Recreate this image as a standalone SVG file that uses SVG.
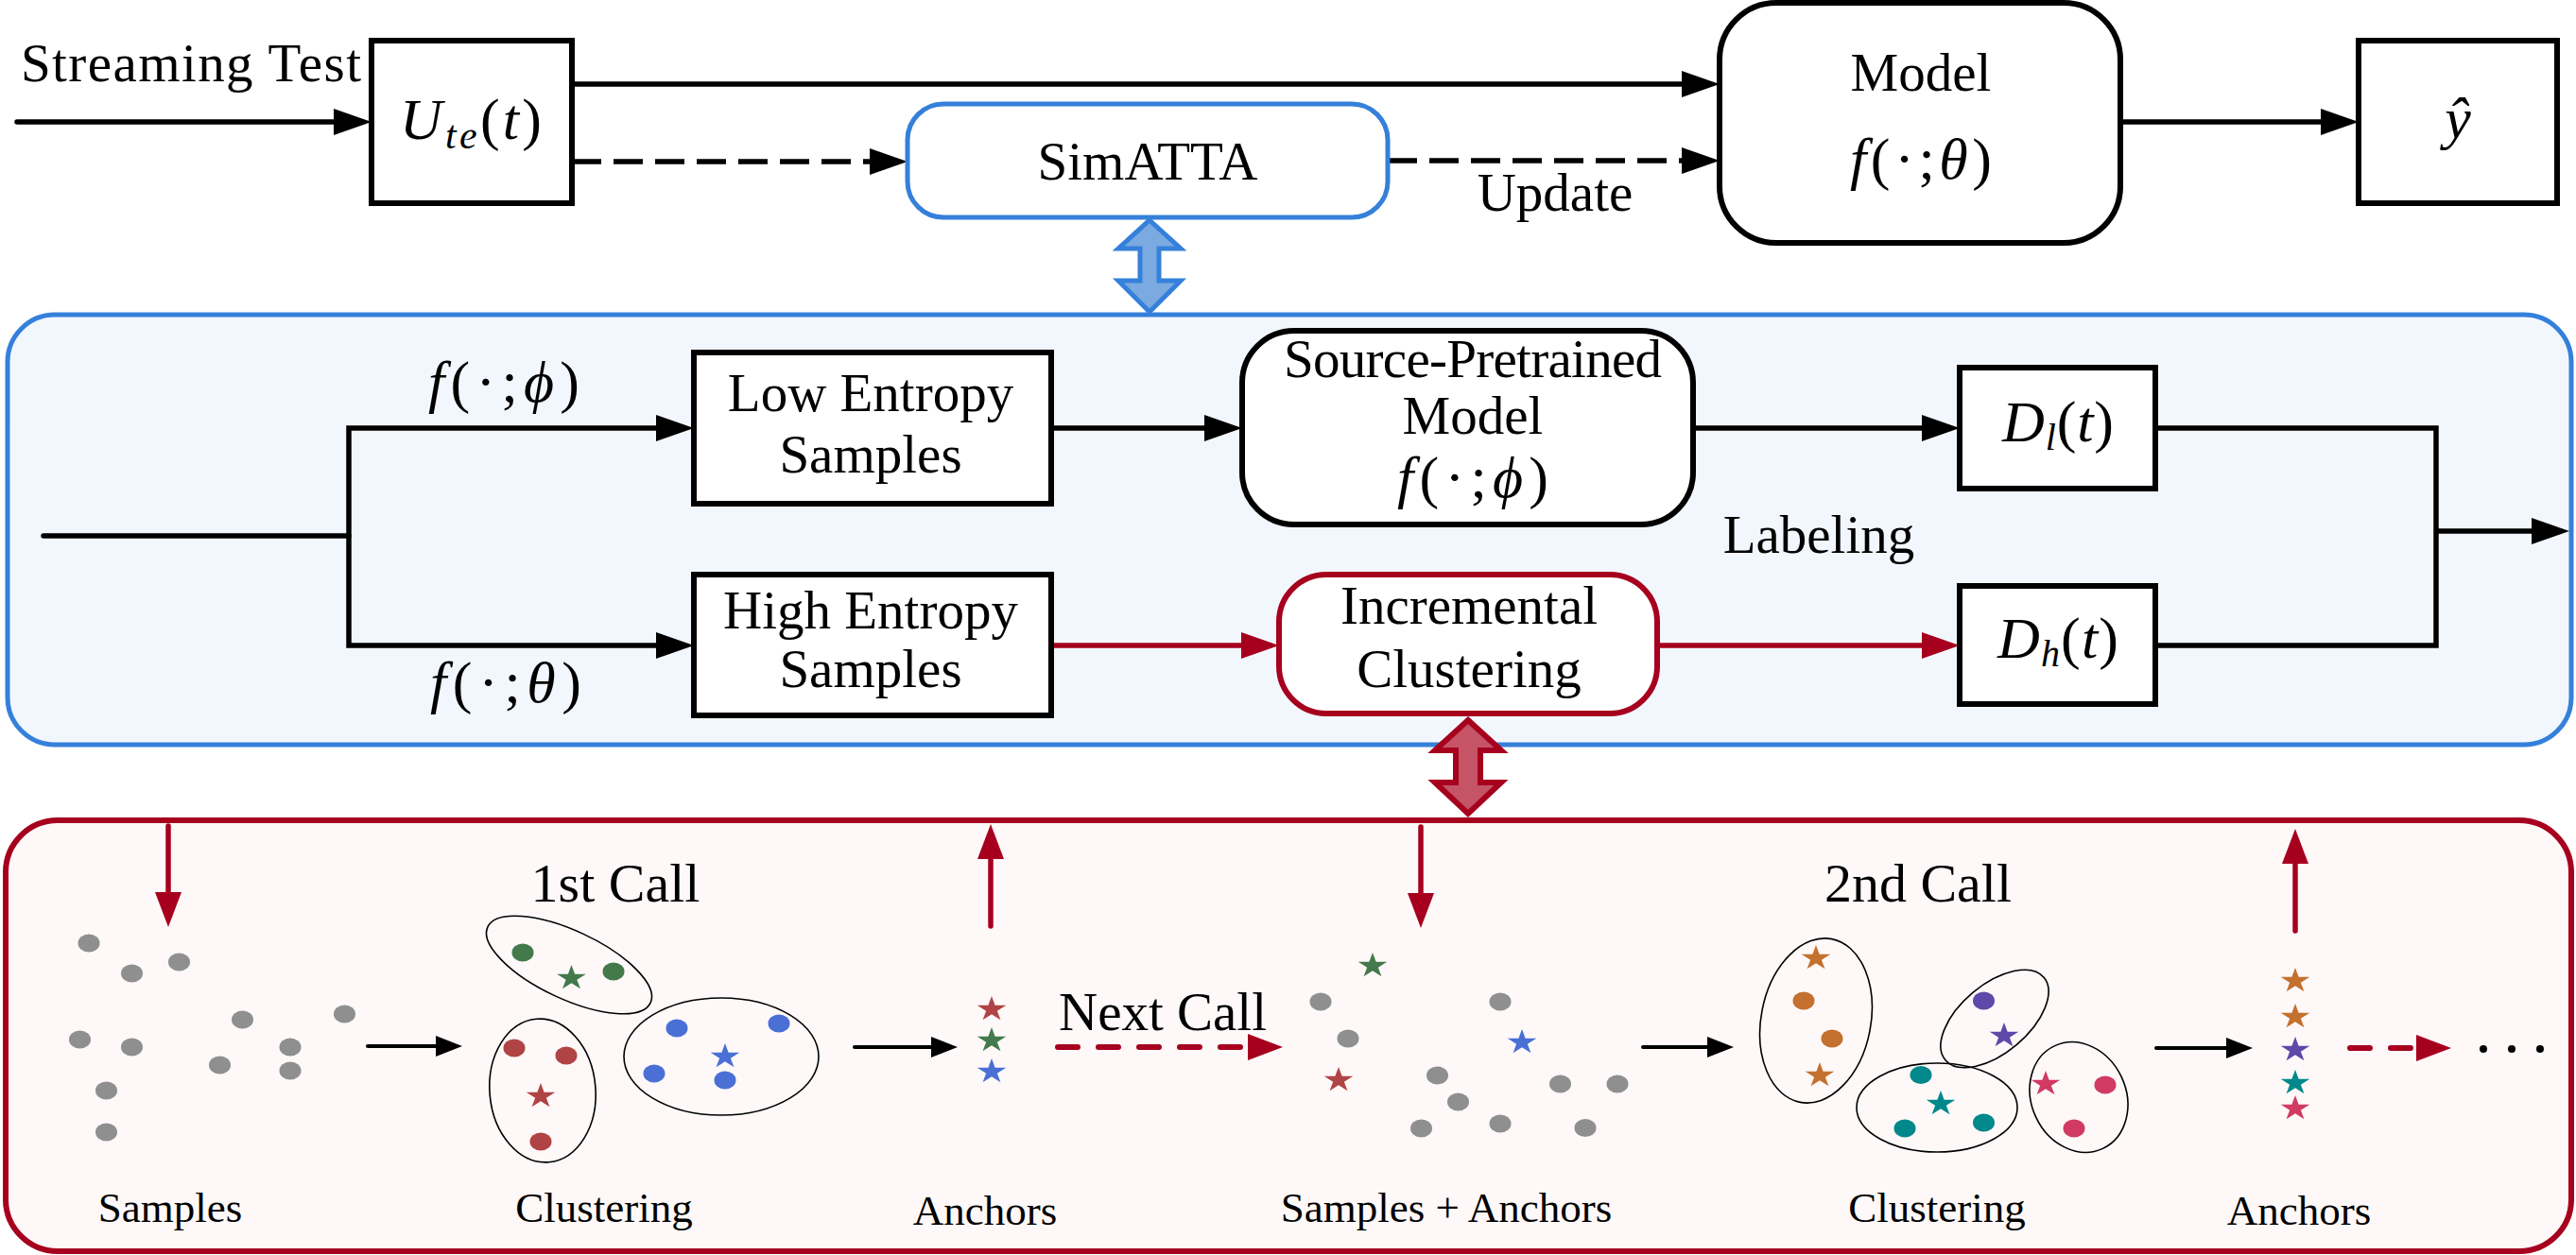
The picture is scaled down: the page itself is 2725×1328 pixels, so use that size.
<svg xmlns="http://www.w3.org/2000/svg" width="2725" height="1328" viewBox="0 0 2725 1328">
<defs>
<style>
text{font-family:"Liberation Serif","Times New Roman",serif;fill:#000}
.lbl{font-size:57px;text-anchor:middle}
.call{font-size:58px;text-anchor:middle}
.sm{font-size:45px;text-anchor:middle}
.math{font-size:62px;text-anchor:middle}
.it{font-style:italic}
.box{fill:#fff;stroke:#000;stroke-width:6}
.ln{fill:none;stroke:#000;stroke-width:5.5}
.lnr{fill:none;stroke:#A6001E;stroke-width:5.5}
.dash{fill:none;stroke:#000;stroke-width:5.5;stroke-dasharray:31 13}
.sml{fill:none;stroke:#000;stroke-width:4;stroke-linecap:round}
.rv{fill:none;stroke:#A6001E;stroke-width:5.5;stroke-linecap:round}
.rdash{fill:none;stroke:#A6001E;stroke-width:6;stroke-linecap:round;stroke-dasharray:21 22}
.clu{fill:none;stroke:#000;stroke-width:1.6}
.g{fill:#8F8F8F}
.cg{fill:#447A4B}
.cr{fill:#B04444}
.cb{fill:#4A70D6}
.co{fill:#C4702F}
.cp{fill:#5E48A8}
.ct{fill:#00888A}
.ck{fill:#D03A63}
</style>
<marker id="ah" markerUnits="userSpaceOnUse" markerWidth="40" markerHeight="28" refX="20" refY="14" orient="auto" overflow="visible"><path d="M0,0 L40,14 L0,28 Z" fill="#000"/></marker>
<marker id="ahr" markerUnits="userSpaceOnUse" markerWidth="40" markerHeight="28" refX="20" refY="14" orient="auto" overflow="visible"><path d="M0,0 L40,14 L0,28 Z" fill="#A6001E"/></marker>
<marker id="ahs" markerUnits="userSpaceOnUse" markerWidth="28" markerHeight="22" refX="14" refY="11" orient="auto" overflow="visible"><path d="M0,0 L28,11 L0,22 Z" fill="#000"/></marker>
<marker id="ahrv" markerUnits="userSpaceOnUse" markerWidth="37" markerHeight="28" refX="18" refY="14" orient="auto" overflow="visible"><path d="M0,0 L37,14 L0,28 Z" fill="#A6001E"/></marker>
<path id="star" d="M0,-14 L3.15,-4.33 L13.32,-4.33 L5.09,1.65 L8.23,11.33 L0,5.35 L-8.23,11.33 L-5.09,1.65 L-13.32,-4.33 L-3.15,-4.33 Z"/>
</defs>
<rect width="2725" height="1328" fill="#fff"/>

<!-- panels -->
<g id="panel-simatta">
<rect x="8" y="333" width="2712" height="455" rx="50" fill="#F2F7FE" stroke="#3580DA" stroke-width="5"/>
</g>
<g id="panel-clustering">
<rect x="6" y="868" width="2714" height="456" rx="55" fill="#FEF8F8" stroke="#A6001E" stroke-width="6"/>
</g>

<!-- connectors -->
<g id="connectors">
<line class="ln" x1="18" y1="129" x2="373" y2="129" stroke-linecap="round" marker-end="url(#ah)"/>
<line class="ln" x1="605" y1="89" x2="1799" y2="89" marker-end="url(#ah)"/>
<line class="dash" x1="605" y1="171" x2="940" y2="171" marker-end="url(#ah)"/>
<line class="dash" x1="1468" y1="170" x2="1799" y2="170" marker-end="url(#ah)"/>
<line class="ln" x1="2243" y1="129" x2="2475" y2="129" marker-end="url(#ah)"/>
<path class="ln" d="M46,567 H369" stroke-linecap="round"/>
<path class="ln" d="M369,567 V453 H714" marker-end="url(#ah)"/>
<path class="ln" d="M369,567 V683 H714" marker-end="url(#ah)"/>
<line class="ln" x1="1112" y1="453" x2="1294" y2="453" marker-end="url(#ah)"/>
<line class="ln" x1="1791" y1="453" x2="2053" y2="453" marker-end="url(#ah)"/>
<line class="lnr" x1="1112" y1="683" x2="1333" y2="683" marker-end="url(#ahr)"/>
<line class="lnr" x1="1753" y1="683" x2="2053" y2="683" marker-end="url(#ahr)"/>
<path class="ln" d="M2280,453 H2577 V683 H2280"/>
<line class="ln" x1="2577" y1="562" x2="2698" y2="562" marker-end="url(#ah)"/>
<line class="rv" x1="178" y1="874" x2="178" y2="962" marker-end="url(#ahrv)"/>
<line class="sml" x1="389" y1="1107" x2="475" y2="1107" marker-end="url(#ahs)"/>
<line class="rv" x1="1048" y1="980" x2="1048" y2="891" marker-end="url(#ahrv)"/>
<line class="sml" x1="904" y1="1108" x2="999" y2="1108" marker-end="url(#ahs)"/>
<line class="rdash" x1="1119" y1="1108" x2="1338" y2="1108" marker-end="url(#ahrv)"/>
<line class="rv" x1="1503" y1="875" x2="1503" y2="963" marker-end="url(#ahrv)"/>
<line class="sml" x1="1738" y1="1108" x2="1820" y2="1108" marker-end="url(#ahs)"/>
<line class="sml" x1="2281" y1="1109" x2="2369" y2="1109" marker-end="url(#ahs)"/>
<line class="rv" x1="2428" y1="985" x2="2428" y2="896" marker-end="url(#ahrv)"/>
<line class="rdash" x1="2486" y1="1109" x2="2574" y2="1109" marker-end="url(#ahrv)"/>
</g>

<!-- double arrows -->
<g id="link-simatta">
<path d="M1216,233 L1249,263 L1226,263 L1226,297 L1249,297 L1216,330 L1183,297 L1206,297 L1206,263 L1183,263 Z" fill="#7BAAE0" stroke="#3580DA" stroke-width="5"/>
</g>
<g id="link-clustering">
<path d="M1553,762 L1588,794 L1566,794 L1566,828 L1588,828 L1553,861 L1518,828 L1540,828 L1540,794 L1518,794 Z" fill="#C45466" stroke="#A6001E" stroke-width="6"/>
</g>

<!-- top row -->
<g id="streaming-test"><text class="lbl" x="202" y="86" textLength="360">Streaming Test</text></g>
<g id="node-ute">
<rect class="box" x="393" y="43" width="212" height="172"/>
<text class="math" x="498" y="147" font-size="64" textLength="150"><tspan class="it">U</tspan><tspan class="it" font-size="42" dy="10">te</tspan><tspan dy="-10">(</tspan><tspan class="it">t</tspan>)</text>
</g>
<g id="node-simatta">
<rect x="960" y="110" width="508" height="120" rx="38" fill="#fff" stroke="#3580DA" stroke-width="5"/>
<text class="lbl" x="1214" y="190">SimATTA</text>
</g>
<g id="label-update"><text class="lbl" x="1645" y="223">Update</text></g>
<g id="node-model">
<rect class="box" x="1819" y="3" width="424" height="254" rx="60"/>
<text class="lbl" x="2032" y="96">Model</text>
<text class="math" x="2032" y="189" font-size="60" textLength="150"><tspan class="it">f</tspan>(·;<tspan class="it">θ</tspan>)</text>
</g>
<g id="node-yhat">
<rect class="box" x="2495" y="43" width="210" height="172"/>
<text class="math" x="2600" y="146" font-size="64"><tspan class="it">ŷ</tspan></text>
</g>

<!-- middle panel -->
<g id="label-fphi"><text class="math" x="533" y="425" textLength="160"><tspan class="it">f</tspan>(·;<tspan class="it">ϕ</tspan>)</text></g>
<g id="label-ftheta"><text class="math" x="535" y="743" textLength="160"><tspan class="it">f</tspan>(·;<tspan class="it">θ</tspan>)</text></g>
<g id="node-low">
<rect class="box" x="734" y="373" width="378" height="160"/>
<text class="lbl" x="921" y="435">Low Entropy</text>
<text class="lbl" x="921" y="500">Samples</text>
</g>
<g id="node-high">
<rect class="box" x="734" y="608" width="378" height="149"/>
<text class="lbl" x="921" y="665">High Entropy</text>
<text class="lbl" x="921" y="727">Samples</text>
</g>
<g id="node-source">
<rect class="box" x="1314" y="350" width="477" height="205" rx="55"/>
<text class="lbl" x="1558" y="399" font-size="52" textLength="400">Source-Pretrained</text>
<text class="lbl" x="1558" y="459" font-size="52">Model</text>
<text class="math" x="1558" y="526" font-size="58" textLength="160"><tspan class="it">f</tspan>(·;<tspan class="it">ϕ</tspan>)</text>
</g>
<g id="node-incremental">
<rect x="1353" y="608" width="400" height="147" rx="50" fill="#fff" stroke="#A6001E" stroke-width="6"/>
<text class="lbl" x="1554" y="660">Incremental</text>
<text class="lbl" x="1554" y="727">Clustering</text>
</g>
<g id="label-labeling"><text class="lbl" x="1924" y="585">Labeling</text></g>
<g id="node-dl">
<rect class="box" x="2073" y="389" width="207" height="128"/>
<text class="math" x="2177" y="467" font-size="58" textLength="118"><tspan class="it">D</tspan><tspan class="it" font-size="40" dy="9">l</tspan><tspan dy="-9">(</tspan><tspan class="it">t</tspan>)</text>
</g>
<g id="node-dh">
<rect class="box" x="2073" y="620" width="207" height="125"/>
<text class="math" x="2177" y="696" font-size="58" textLength="128"><tspan class="it">D</tspan><tspan class="it" font-size="40" dy="9">h</tspan><tspan dy="-9">(</tspan><tspan class="it">t</tspan>)</text>
</g>

<!-- bottom panel -->
<g id="samples">
<ellipse class="g" cx="94" cy="998" rx="11.5" ry="9.5"/>
<ellipse class="g" cx="139.5" cy="1030" rx="11.5" ry="9.5"/>
<ellipse class="g" cx="189.5" cy="1018" rx="11.5" ry="9.5"/>
<ellipse class="g" cx="256.5" cy="1079" rx="11.5" ry="9.5"/>
<ellipse class="g" cx="364.5" cy="1073" rx="11.5" ry="9.5"/>
<ellipse class="g" cx="84.5" cy="1100" rx="11.5" ry="9.5"/>
<ellipse class="g" cx="139.5" cy="1108" rx="11.5" ry="9.5"/>
<ellipse class="g" cx="307" cy="1108" rx="11.5" ry="9.5"/>
<ellipse class="g" cx="232.5" cy="1127" rx="11.5" ry="9.5"/>
<ellipse class="g" cx="307" cy="1133" rx="11.5" ry="9.5"/>
<ellipse class="g" cx="112.5" cy="1154" rx="11.5" ry="9.5"/>
<ellipse class="g" cx="112.5" cy="1198" rx="11.5" ry="9.5"/>
<text class="sm" x="180" y="1293">Samples</text>
</g>
<g id="clustering-1">
<text class="call" x="651" y="954">1st Call</text>
<ellipse class="clu" cx="602" cy="1021" rx="95" ry="36" transform="rotate(25 602 1021)"/>
<ellipse class="clu" cx="574" cy="1154" rx="56" ry="76" transform="rotate(-5 574 1154)"/>
<ellipse class="clu" cx="763" cy="1118" rx="103" ry="62"/>
<ellipse class="cg" cx="553" cy="1008" rx="11.5" ry="9.5"/>
<ellipse class="cg" cx="649" cy="1028" rx="11.5" ry="9.5"/>
<use href="#star" class="cg" transform="translate(604.5,1035) scale(1.15,1)"/>
<ellipse class="cr" cx="544" cy="1109" rx="11.5" ry="9.5"/>
<ellipse class="cr" cx="599" cy="1117" rx="11.5" ry="9.5"/>
<ellipse class="cr" cx="572" cy="1208" rx="11.5" ry="9.5"/>
<use href="#star" class="cr" transform="translate(572,1160) scale(1.15,1)"/>
<ellipse class="cb" cx="716" cy="1088" rx="11.5" ry="9.5"/>
<ellipse class="cb" cx="824" cy="1083" rx="11.5" ry="9.5"/>
<ellipse class="cb" cx="692" cy="1136" rx="11.5" ry="9.5"/>
<ellipse class="cb" cx="767" cy="1143" rx="11.5" ry="9.5"/>
<use href="#star" class="cb" transform="translate(767,1118) scale(1.15,1)"/>
<text class="sm" x="639" y="1293">Clustering</text>
</g>
<g id="anchors-1">
<use href="#star" class="cr" transform="translate(1049,1068) scale(1.15,1)"/>
<use href="#star" class="cg" transform="translate(1049,1101) scale(1.15,1)"/>
<use href="#star" class="cb" transform="translate(1049,1134) scale(1.15,1)"/>
<text class="sm" x="1042" y="1296">Anchors</text>
</g>
<g id="label-next-call"><text class="lbl" x="1230" y="1090" font-size="52">Next Call</text></g>
<g id="samples-anchors">
<use href="#star" class="cg" transform="translate(1452,1022) scale(1.15,1)"/>
<use href="#star" class="cb" transform="translate(1610,1103) scale(1.15,1)"/>
<use href="#star" class="cr" transform="translate(1416,1143) scale(1.15,1)"/>
<ellipse class="g" cx="1397" cy="1060" rx="11.5" ry="9.5"/>
<ellipse class="g" cx="1587" cy="1060" rx="11.5" ry="9.5"/>
<ellipse class="g" cx="1426" cy="1099" rx="11.5" ry="9.5"/>
<ellipse class="g" cx="1520.5" cy="1138" rx="11.5" ry="9.5"/>
<ellipse class="g" cx="1650.5" cy="1147" rx="11.5" ry="9.5"/>
<ellipse class="g" cx="1711" cy="1147" rx="11.5" ry="9.5"/>
<ellipse class="g" cx="1542.5" cy="1166" rx="11.5" ry="9.5"/>
<ellipse class="g" cx="1587" cy="1189" rx="11.5" ry="9.5"/>
<ellipse class="g" cx="1503.5" cy="1194" rx="11.5" ry="9.5"/>
<ellipse class="g" cx="1677" cy="1193.5" rx="11.5" ry="9.5"/>
<text class="sm" x="1530" y="1293">Samples + Anchors</text>
</g>
<g id="clustering-2">
<text class="call" x="2029" y="954">2nd Call</text>
<ellipse class="clu" cx="1921" cy="1080" rx="58" ry="88" transform="rotate(11 1921 1080)"/>
<ellipse class="clu" cx="2110" cy="1078" rx="68" ry="36" transform="rotate(-40 2110 1078)"/>
<ellipse class="clu" cx="2049" cy="1172" rx="85" ry="47"/>
<ellipse class="clu" cx="2199" cy="1161" rx="50" ry="60" transform="rotate(-25 2199 1161)"/>
<use href="#star" class="co" transform="translate(1921,1014) scale(1.15,1)"/>
<ellipse class="co" cx="1908" cy="1059" rx="11.5" ry="9.5"/>
<ellipse class="co" cx="1938" cy="1099" rx="11.5" ry="9.5"/>
<use href="#star" class="co" transform="translate(1925,1138) scale(1.15,1)"/>
<ellipse class="cp" cx="2098.5" cy="1059" rx="11.5" ry="9.5"/>
<use href="#star" class="cp" transform="translate(2120,1096) scale(1.15,1)"/>
<ellipse class="ct" cx="2032" cy="1137.5" rx="11.5" ry="9.5"/>
<use href="#star" class="ct" transform="translate(2053,1168) scale(1.15,1)"/>
<ellipse class="ct" cx="2015" cy="1194" rx="11.5" ry="9.5"/>
<ellipse class="ct" cx="2098.5" cy="1188" rx="11.5" ry="9.5"/>
<use href="#star" class="ck" transform="translate(2164,1147) scale(1.15,1)"/>
<ellipse class="ck" cx="2227" cy="1148" rx="11.5" ry="9.5"/>
<ellipse class="ck" cx="2194" cy="1194" rx="11.5" ry="9.5"/>
<text class="sm" x="2049" y="1293">Clustering</text>
</g>
<g id="anchors-2">
<use href="#star" class="co" transform="translate(2428,1038) scale(1.15,1)"/>
<use href="#star" class="co" transform="translate(2428,1076) scale(1.15,1)"/>
<use href="#star" class="cp" transform="translate(2428,1111) scale(1.15,1)"/>
<use href="#star" class="ct" transform="translate(2428,1146) scale(1.15,1)"/>
<use href="#star" class="ck" transform="translate(2428,1173) scale(1.15,1)"/>
<text class="sm" x="2432" y="1296">Anchors</text>
</g>
<g id="ellipsis">
<circle cx="2627" cy="1110" r="4"/>
<circle cx="2657" cy="1110" r="4"/>
<circle cx="2687" cy="1110" r="4"/>
</g>
</svg>
